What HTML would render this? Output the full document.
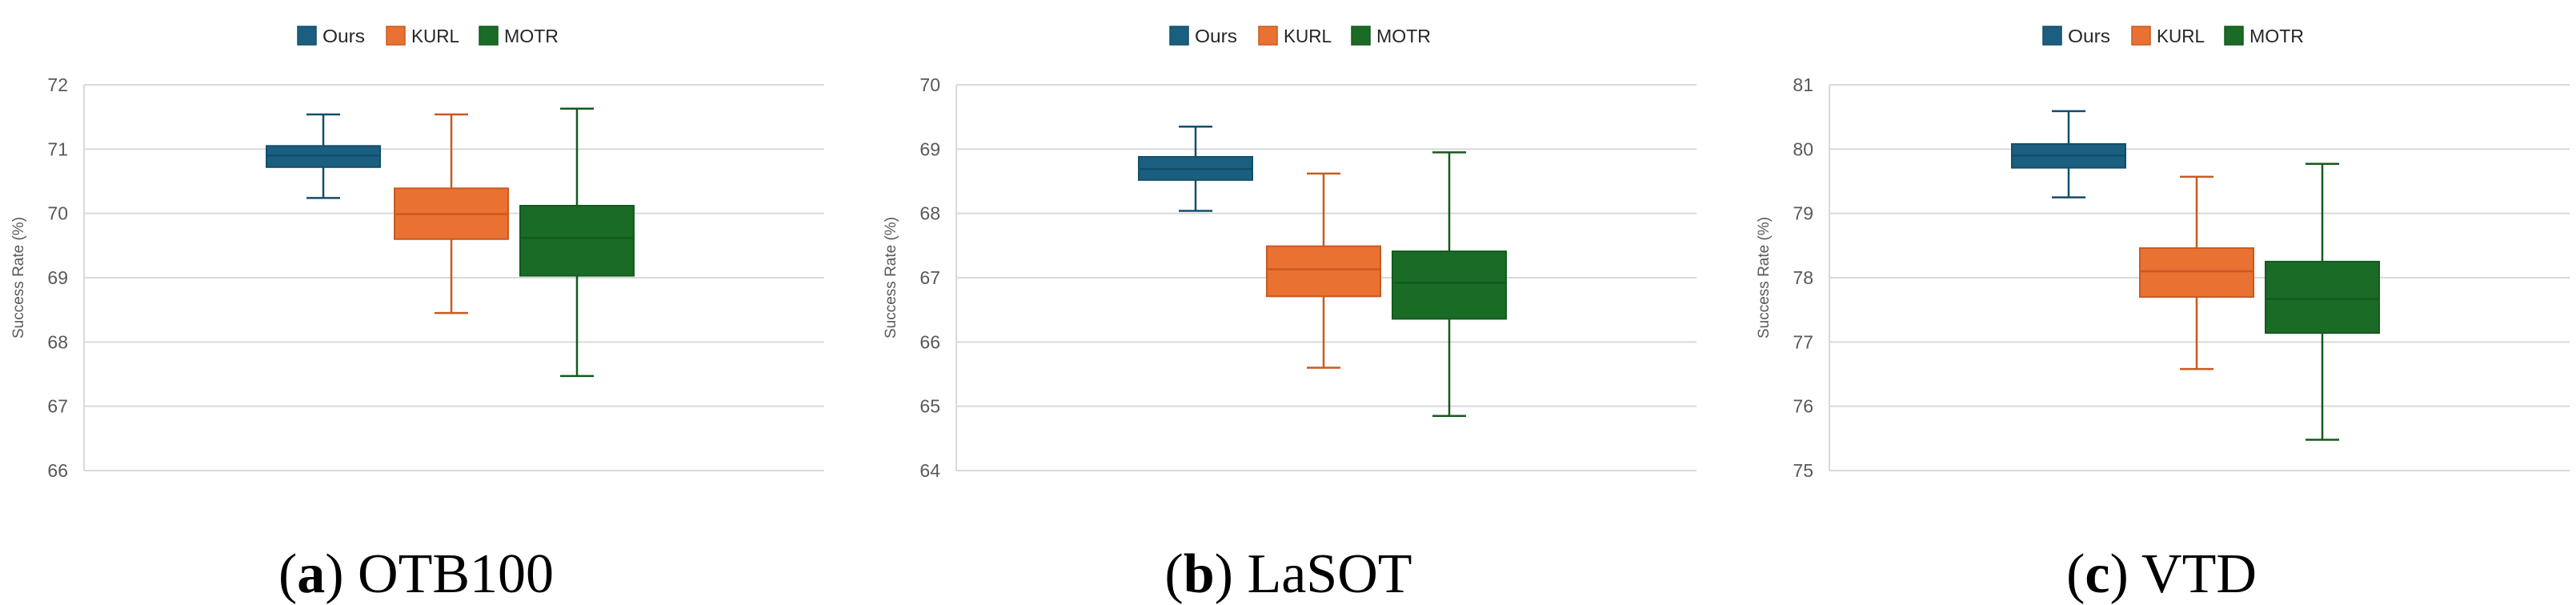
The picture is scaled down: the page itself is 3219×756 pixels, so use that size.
<!DOCTYPE html>
<html><head><meta charset="utf-8"><style>
html,body{margin:0;padding:0;background:#fff;}
svg{display:block;}
</style></head><body>
<svg id="fig" width="3219" height="756" viewBox="0 0 3219 756" xmlns="http://www.w3.org/2000/svg"></svg>
<script>
const series = ["Ours","KURL","MOTR"];
const panelCaptions = ["OTB100","LaSOT","VTD"];
const panelLetters = ["a","b","c"];
const yMins = [66,64,75];
const yMaxs = [72,70,81];
// [whiskerMax, Q3, median, Q1, whiskerMin] per series
const otbOurs = [71.54,71.05,70.90,70.72,70.24];
const otbKurl = [71.54,70.39,69.99,69.60,68.45];
const otbMotr = [71.63,70.12,69.62,69.03,67.47];
const lasotOurs = [69.35,68.88,68.69,68.52,68.04];
const lasotKurl = [68.62,67.49,67.13,66.71,65.60];
const lasotMotr = [68.95,67.41,66.92,66.36,64.85];
const vtdOurs = [80.59,80.08,79.90,79.71,79.25];
const vtdKurl = [79.57,78.46,78.10,77.70,76.58];
const vtdMotr = [79.77,78.25,77.67,77.14,75.48];
const panelData = [[otbOurs,otbKurl,otbMotr],[lasotOurs,lasotKurl,lasotMotr],[vtdOurs,vtdKurl,vtdMotr]];

const NS="http://www.w3.org/2000/svg";
const svg=document.getElementById('fig');
const fills=["#1a5f80","#e97132","#1a6b25"];
const strokes=["#134e6b","#c85a22","#145a1e"];
const plotLefts=[105,1195,2286];
const plotW=925, yTop=106, yBot=588;
const legendTextW=[53,60,68];
function mk(tag,attrs,parent){const e=document.createElementNS(NS,tag);for(const k in attrs)e.setAttribute(k,attrs[k]);(parent||svg).appendChild(e);return e;}

panelData.forEach((data,p)=>{
  const L=plotLefts[p];
  const g=mk('g',{});
  
  
  const y=v=>yBot-(v-yMins[p])/(yMaxs[p]-yMins[p])*(yBot-yTop);
  for(let t=yMins[p];t<=yMaxs[p];t++){
    const ln=mk('line',{x1:L,x2:L+plotW,y1:y(t),y2:y(t),stroke:'#d9d9d9','stroke-width':2},g);
    
    
    const tx=mk('text',{x:L-20,y:y(t)+8,'text-anchor':'end','font-family':'Liberation Sans, sans-serif','font-size':23,fill:'#595959'},g);
    tx.textContent=t;
    
    
  }
  const ax=mk('line',{x1:L,x2:L,y1:yTop,y2:yBot,stroke:'#d9d9d9','stroke-width':2},g);
  
  
  const yt=mk('text',{x:0,y:0,transform:`translate(${L-76},${(yTop+yBot)/2}) rotate(-90)`,'text-anchor':'middle','font-family':'Liberation Sans, sans-serif','font-size':19,fill:'#595959'},g);
  yt.textContent='Success Rate (%)';
  
  
  const lx=[267,378,494];
  series.forEach((s,i)=>{
    const r=mk('rect',{x:L+lx[i],y:33,width:23,height:23,fill:fills[i],stroke:strokes[i],'stroke-width':1.5},g);
    
    
    const t=mk('text',{x:L+lx[i]+31,y:53,'font-family':'Liberation Sans, sans-serif','font-size':23,fill:'#262626',textLength:legendTextW[i],lengthAdjust:'spacingAndGlyphs'},g);
    t.textContent=s;
    
    
  });
  const boxW=142, starts=[228,388,545];
  data.forEach((d,i)=>{
    const x0=L+starts[i], cx=x0+boxW/2;
    const bg=mk('g',{},g);
    
    
    mk('line',{x1:cx,x2:cx,y1:y(d[0]),y2:y(d[1]),stroke:strokes[i],'stroke-width':2.5},bg);
    mk('line',{x1:cx,x2:cx,y1:y(d[3]),y2:y(d[4]),stroke:strokes[i],'stroke-width':2.5},bg);
    mk('line',{x1:cx-21,x2:cx+21,y1:y(d[0]),y2:y(d[0]),stroke:strokes[i],'stroke-width':2.5},bg);
    mk('line',{x1:cx-21,x2:cx+21,y1:y(d[4]),y2:y(d[4]),stroke:strokes[i],'stroke-width':2.5},bg);
    mk('rect',{x:x0,y:y(d[1]),width:boxW,height:y(d[3])-y(d[1]),fill:fills[i],stroke:strokes[i],'stroke-width':2},bg);
    mk('line',{x1:x0,x2:x0+boxW,y1:y(d[2]),y2:y(d[2]),stroke:strokes[i],'stroke-width':2.5},bg);
  });
  const cap=mk('text',{x:L+415,y:740,'text-anchor':'middle','font-family':'Liberation Serif, serif','font-size':70,fill:'#000'},g);
  cap.innerHTML='(<tspan font-weight="bold">'+panelLetters[p]+'</tspan>) '+panelCaptions[p];
  
  
});
</script>
</body></html>
